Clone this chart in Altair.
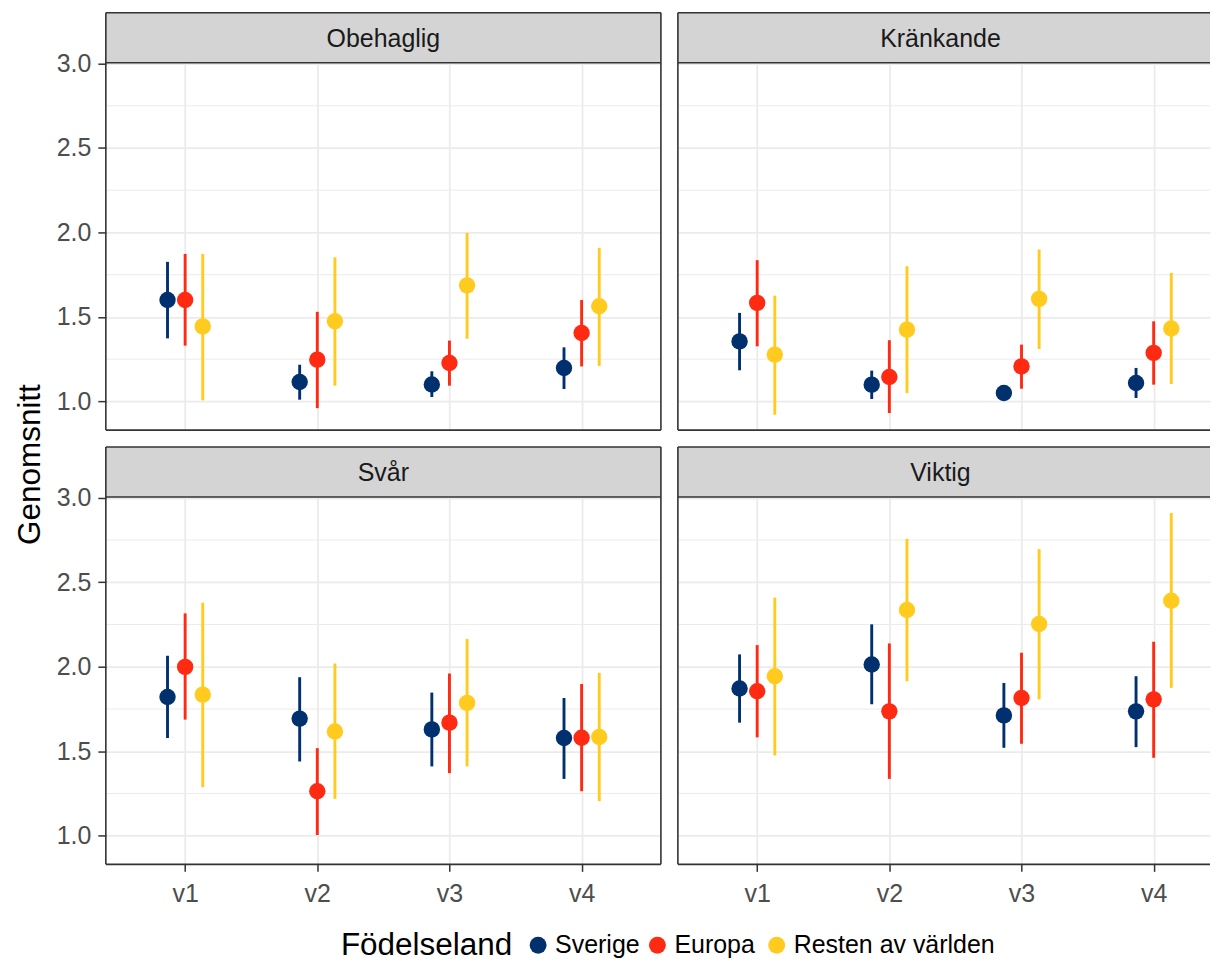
import json
import altair as alt
import pandas as pd

# ---------------- data ----------------
panels = ["Obehaglig", "Kränkande", "Svår", "Viktig"]
variables = ["v1", "v2", "v3", "v4"]
groups = ["Sverige", "Europa", "Resten av världen"]
group_colors = ["#00306E", "#FF2A12", "#FFCB1F"]

# rows: Sverige, Europa, Resten av världen ; columns: v1..v4
obehaglig_mean = [[1.600, 1.115, 1.100, 1.198], [1.600, 1.247, 1.227, 1.405], [1.444, 1.474, 1.687, 1.563]]
obehaglig_lo = [[1.373, 1.010, 1.026, 1.073], [1.330, 0.960, 1.093, 1.207], [1.006, 1.093, 1.371, 1.210]]
obehaglig_hi = [[1.826, 1.217, 1.178, 1.320], [1.873, 1.530, 1.360, 1.600], [1.873, 1.853, 1.998, 1.909]]

krankande_mean = [[1.355, 1.099, 1.050, 1.109], [1.583, 1.144, 1.207, 1.287], [1.277, 1.425, 1.607, 1.431]]
krankande_lo = [[1.184, 1.014, 1.030, 1.020], [1.326, 0.931, 1.075, 1.099], [0.921, 1.050, 1.310, 1.103]]
krankande_hi = [[1.524, 1.182, 1.070, 1.198], [1.836, 1.362, 1.336, 1.474], [1.626, 1.800, 1.899, 1.761]]

svar_mean = [[1.821, 1.693, 1.629, 1.578], [1.999, 1.263, 1.669, 1.580], [1.835, 1.617, 1.786, 1.584]]
svar_lo = [[1.578, 1.439, 1.410, 1.336], [1.687, 1.004, 1.370, 1.263], [1.287, 1.218, 1.410, 1.204]]
svar_hi = [[2.065, 1.938, 1.847, 1.815], [2.316, 1.518, 1.960, 1.898], [2.379, 2.019, 2.164, 1.964]]

viktig_mean = [[1.871, 2.013, 1.712, 1.736], [1.855, 1.736, 1.815, 1.807], [1.944, 2.336, 2.253, 2.391]]
viktig_lo = [[1.669, 1.778, 1.520, 1.524], [1.582, 1.336, 1.544, 1.461], [1.475, 1.914, 1.807, 1.875]]
viktig_hi = [[2.073, 2.251, 1.904, 1.944], [2.128, 2.138, 2.083, 2.148], [2.409, 2.757, 2.696, 2.910]]

y_major = [1.0, 1.5, 2.0, 2.5, 3.0]
y_minor = [1.25, 1.75, 2.25, 2.75]
y_title = "Genomsnitt"
legend_title = "Födelseland"

# ---------------- build table ----------------
panel_data = {
    "Obehaglig": (obehaglig_mean, obehaglig_lo, obehaglig_hi),
    "Kränkande": (krankande_mean, krankande_lo, krankande_hi),
    "Svår": (svar_mean, svar_lo, svar_hi),
    "Viktig": (viktig_mean, viktig_lo, viktig_hi),
}
rows = []
for p in panels:
    m, lo, hi = panel_data[p]
    for gi, g in enumerate(groups):
        for vi, v in enumerate(variables):
            rows.append(dict(panel=p, group=g, gidx=gi, vidx=vi + 1, var=v,
                             mean=m[gi][vi], lo=lo[gi][vi], hi=hi[gi][vi]))
df = pd.DataFrame(rows)
minor_df = pd.DataFrame({"val": y_minor})
one = pd.DataFrame({"k": [0]})
legend_df = pd.DataFrame({"group": groups})
legend_title_df = pd.DataFrame({"t": [legend_title]})

# ---------------- style ----------------
FONT = "Liberation Sans"
GRID = "#EBEBEB"
BORDER = "#333333"
STRIP_FILL = "#D4D4D4"
Y_DOMAIN = [0.83, 3.005]
DODGE = 0.4 / 3
LEFT_W = 556
RIGHT_W = 533
PANEL_H = 368
STRIP_H = 50
GAP = 17
LEG_H = 28
px_per_unit = LEFT_W / 4.2
RIGHT_XMAX = 0.4 + RIGHT_W / px_per_unit

color_scale = alt.Scale(domain=groups, range=group_colors)
label_expr = "%s[datum.value - 1]" % json.dumps(variables)


def hrule(x0, x1, y):
    return alt.Chart(one).mark_rule(color=BORDER, strokeWidth=1.6).encode(
        x=alt.value(x0), x2=alt.value(x1), y=alt.value(y))


def vrule(x, y0, y1):
    return alt.Chart(one).mark_rule(color=BORDER, strokeWidth=1.6).encode(
        x=alt.value(x), y=alt.value(y0), y2=alt.value(y1))


def panel(name, width, xmax, left, bottom, right=True, text_x=None):
    base = alt.Chart(df).transform_filter(alt.datum.panel == name).transform_calculate(
        xpos="datum.vidx + (datum.gidx - 1) * %f" % DODGE, grp="datum.group")
    xaxis = alt.Axis(values=[1, 2, 3, 4], grid=True, gridColor=GRID, gridWidth=1.8,
                     labels=bottom, ticks=bottom, domain=False, title=None,
                     labelExpr=label_expr, labelFontSize=25, labelColor="#4D4D4D", labelFont=FONT,
                     labelPadding=10, tickSize=7, tickColor=BORDER, tickWidth=1.5)
    yargs = dict(values=y_major, grid=True, gridColor=GRID, gridWidth=1.8,
                 labels=left, ticks=left, domain=False, format=".1f",
                 labelFontSize=25, labelColor="#4D4D4D", labelFont=FONT,
                 labelPadding=7, tickSize=8, tickColor=BORDER, tickWidth=1.5)
    if left and bottom:
        yaxis = alt.Axis(title=y_title, titleFontSize=31.5, titleFontWeight="normal", titleColor="black",
                         titleFont=FONT, titlePadding=10, titleY=-33, **yargs)
    else:
        yaxis = alt.Axis(title=None, **yargs)
    xscale = alt.Scale(domain=[0.4, xmax], nice=False, zero=False)
    yscale = alt.Scale(domain=Y_DOMAIN, nice=False, zero=False)

    minor = alt.Chart(minor_df).mark_rule(color=GRID, strokeWidth=1.0).encode(
        y=alt.Y("val:Q", scale=yscale, axis=yaxis))
    bars = base.mark_rule(strokeWidth=2.9).encode(
        x=alt.X("xpos:Q", scale=xscale, axis=xaxis),
        y=alt.Y("lo:Q", scale=yscale, axis=yaxis),
        y2="hi:Q",
        stroke=alt.Stroke("grp:N", scale=color_scale, legend=None),
    )
    pts = base.mark_circle(size=270, opacity=1).encode(
        x=alt.X("xpos:Q", scale=xscale, axis=xaxis),
        y=alt.Y("mean:Q", scale=yscale, axis=yaxis),
        color=alt.Color("group:N", scale=color_scale, legend=None),
    )
    # strip above the panel
    s = alt.Chart(pd.DataFrame({"label": [name]}))
    strip_bg = s.mark_rect(fill=STRIP_FILL).encode(
        x=alt.value(0), x2=alt.value(width), y=alt.value(-STRIP_H), y2=alt.value(0))
    strip_txt = s.mark_text(font=FONT, fontSize=25, color="#1A1A1A", baseline="middle", align="center").encode(
        x=alt.value(text_x if text_x is not None else width / 2), y=alt.value(-STRIP_H / 2 + 1), text="label:N")
    frame = [
        vrule(0, -STRIP_H, PANEL_H),
        hrule(0, width, -STRIP_H),
        hrule(0, width, 0),
        hrule(0, width, PANEL_H),
    ]
    if right:
        frame.append(vrule(width, -STRIP_H, PANEL_H))
    return alt.layer(minor, bars, pts, strip_bg, strip_txt, *frame).properties(width=width, height=PANEL_H)


# ---------------- legend (drawn as its own small view) ----------------
leg_x = alt.X("group:N", scale=alt.Scale(type="point", domain=groups, range=[433, 672], padding=0), axis=None)
leg_dots = alt.Chart(legend_df).mark_circle(size=285, opacity=1).encode(
    x=leg_x, y=alt.value(LEG_H / 2),
    color=alt.Color("group:N", scale=color_scale, legend=None))
leg_labels = alt.Chart(legend_df).mark_text(font=FONT, fontSize=25, color="black", align="left",
                                            baseline="middle", dx=17).encode(
    x=leg_x, y=alt.value(LEG_H / 2), text="group:N")
leg_title = alt.Chart(legend_title_df).mark_text(font=FONT, fontSize=31.5, color="black", align="right",
                                                 baseline="middle").encode(
    x=alt.value(407), y=alt.value(LEG_H / 2 + 1), text="t:N")
legend_view = alt.layer(leg_dots, leg_labels, leg_title).properties(width=LEFT_W, height=LEG_H)

chart = alt.concat(
    panel(panels[0], LEFT_W, 4.6, True, False),
    panel(panels[1], RIGHT_W, RIGHT_XMAX, False, False, right=False, text_x=263),
    panel(panels[2], LEFT_W, 4.6, True, True),
    panel(panels[3], RIGHT_W, RIGHT_XMAX, False, True, right=False, text_x=263),
    legend_view,
    columns=2, spacing={"row": GAP + STRIP_H, "column": GAP}, bounds="flush",
).properties(
    padding={"left": 5, "top": 2, "right": 0, "bottom": 0}
).configure(font=FONT).configure_view(stroke="transparent")

chart.save("out.html", embed_options={"renderer": "svg", "actions": False})
